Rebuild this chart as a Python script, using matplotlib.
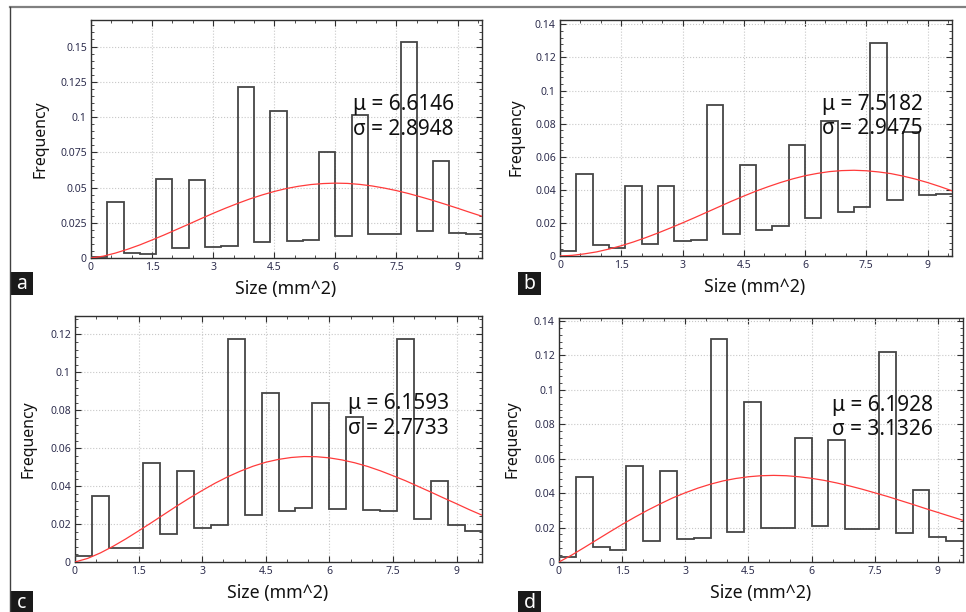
import matplotlib
matplotlib.use("Agg")
import matplotlib.pyplot as plt
from matplotlib.ticker import MultipleLocator, FormatStrFormatter

plt.rcParams['font.family'] = ['Noto Sans', 'DejaVu Sans']

W, H = 966, 612

# ── data ──────────────────────────────────────────────────────────────
bin_edges = [0, 0.4, 0.8, 1.2, 1.6, 2.0, 2.4, 2.8, 3.2, 3.6, 4.0, 4.4, 4.8,
             5.2, 5.6, 6.0, 6.4, 6.8, 7.2, 7.6, 8.0, 8.4, 8.8, 9.2, 9.6]

freq_a = [0.001, 0.040, 0.0035, 0.003, 0.056, 0.007, 0.0555, 0.008, 0.0085,
          0.121, 0.011, 0.1043, 0.012, 0.013, 0.075, 0.0155, 0.1013, 0.017,
          0.017, 0.153, 0.0188, 0.0688, 0.018, 0.017]
freq_b = [0.003, 0.0493, 0.0067, 0.0046, 0.0421, 0.0072, 0.0425, 0.0088, 0.0096,
          0.0911, 0.0132, 0.0549, 0.016, 0.018, 0.0669, 0.0232, 0.0813, 0.0266,
          0.0296, 0.1289, 0.034, 0.0749, 0.0371, 0.0375]
freq_c = [0.0032, 0.0348, 0.0076, 0.0075, 0.052, 0.0146, 0.0478, 0.0179, 0.0193,
          0.1174, 0.025, 0.0889, 0.0269, 0.0285, 0.0837, 0.0281, 0.0765, 0.0274,
          0.0269, 0.1178, 0.0227, 0.0429, 0.0193, 0.0165]
freq_d = [0.0029, 0.0496, 0.0089, 0.0068, 0.0558, 0.012, 0.053, 0.0136, 0.0139,
          0.1297, 0.0176, 0.0929, 0.0199, 0.0196, 0.072, 0.0207, 0.0707, 0.0194,
          0.0194, 0.1218, 0.0166, 0.042, 0.0145, 0.0124]

mu = {'a': 6.6146, 'b': 7.5182, 'c': 6.1593, 'd': 6.1928}
sigma = {'a': 2.8948, 'b': 2.9475, 'c': 2.7733, 'd': 3.1326}

# fitted curves (red), sampled every 0.3 along x
curve_x = [0, 0.3, 0.6, 0.9, 1.2, 1.5, 1.8, 2.1, 2.4, 2.7, 3.0, 3.3, 3.6, 3.9,
           4.2, 4.5, 4.8, 5.1, 5.4, 5.7, 6.0, 6.3, 6.6, 6.9, 7.2, 7.5, 7.8,
           8.1, 8.4, 8.7, 9.0, 9.3, 9.6]
fit_a = [0.0000, 0.0013, 0.0035, 0.0062, 0.0093, 0.0128, 0.0164, 0.0202, 0.0240,
         0.0279, 0.0317, 0.0353, 0.0387, 0.0419, 0.0447, 0.0472, 0.0493, 0.0509,
         0.0521, 0.0528, 0.0531, 0.0529, 0.0522, 0.0511, 0.0496, 0.0478, 0.0457,
         0.0433, 0.0408, 0.0381, 0.0353, 0.0324, 0.0296]
fit_b = [0.0000, 0.0004, 0.0013, 0.0025, 0.0042, 0.0062, 0.0085, 0.0111, 0.0139,
         0.0169, 0.0200, 0.0232, 0.0265, 0.0298, 0.0331, 0.0362, 0.0392, 0.0419,
         0.0444, 0.0466, 0.0485, 0.0499, 0.0510, 0.0516, 0.0518, 0.0515, 0.0508,
         0.0498, 0.0483, 0.0465, 0.0444, 0.0420, 0.0394]
fit_c = [0.0000, 0.0019, 0.0048, 0.0083, 0.0122, 0.0164, 0.0207, 0.0251, 0.0295,
         0.0337, 0.0377, 0.0415, 0.0449, 0.0479, 0.0505, 0.0526, 0.0541, 0.0551,
         0.0556, 0.0555, 0.0549, 0.0538, 0.0523, 0.0504, 0.0481, 0.0455, 0.0428,
         0.0398, 0.0368, 0.0337, 0.0307, 0.0276, 0.0247]
fit_d = [0.0000, 0.0040, 0.0084, 0.0129, 0.0174, 0.0218, 0.0260, 0.0300, 0.0337,
         0.0372, 0.0402, 0.0429, 0.0452, 0.0471, 0.0485, 0.0495, 0.0501, 0.0503,
         0.0501, 0.0495, 0.0486, 0.0474, 0.0459, 0.0442, 0.0423, 0.0402, 0.0381,
         0.0358, 0.0335, 0.0311, 0.0288, 0.0265, 0.0242]

panels = [
    # name, freq, fit, (left, right, top, bottom) px, ytop, ymaj, ymin, text x, label box, xlabel, ylabel
    ('a', freq_a, fit_a, (91, 482, 20, 258), 0.1688, 0.025, 0.005, 0.669, (10, 272), (286, 289), (41, 139)),
    ('b', freq_b, fit_b, (560, 952, 20, 256), 0.1426, 0.02, 0.004, 0.668, (518, 272), (755, 287), (516, 137)),
    ('c', freq_c, fit_c, (75, 482, 316, 562), 0.1297, 0.02, 0.004, 0.671, (10, 591), (278, 593), (28, 439)),
    ('d', freq_d, fit_d, (559, 963, 318, 562), 0.1417, 0.02, 0.004, 0.676, (518, 591), (761, 593), (513, 439)),
]

tick_col = '#2e2e4e'
fig = plt.figure(figsize=(W / 100, H / 100), dpi=100)

# outer frame lines
fig.add_artist(plt.Line2D([10 / W, 1], [1 - 7 / H, 1 - 7 / H], color='#808080', lw=1.6))
fig.add_artist(plt.Line2D([10 / W, 10 / W], [0, 1 - 7 / H], color='#404040', lw=1.0))

for name, freq, fit, (l, r, t, b), ytop, ymaj, ymin, tx, (bx, by), (xlx, xly), (ylx, yly) in panels:
    ax = fig.add_axes([l / W, 1 - b / H, (r - l) / W, (b - t) / H])
    ax.stairs(freq, bin_edges, baseline=None, color='#454545', lw=1.3, zorder=3)
    ax.plot(curve_x, fit, color='#ff3b3b', lw=0.9, zorder=4)

    ax.set_xlim(0, 9.6)
    ax.set_ylim(0, ytop)
    ax.xaxis.set_major_locator(MultipleLocator(1.5))
    ax.xaxis.set_minor_locator(MultipleLocator(0.5))
    ax.yaxis.set_major_locator(MultipleLocator(ymaj))
    ax.yaxis.set_minor_locator(MultipleLocator(ymin))
    ax.xaxis.set_major_formatter(FormatStrFormatter('%g'))
    ax.yaxis.set_major_formatter(FormatStrFormatter('%g'))
    ax.tick_params(which='both', direction='in', top=True, right=True,
                   colors='#303030', labelcolor=tick_col, labelsize=7.5, pad=3)
    ax.tick_params(which='major', length=4, width=0.8)
    ax.tick_params(which='minor', length=2.2, width=0.6)
    for lab in ax.get_xticklabels() + ax.get_yticklabels():
        lab.set_fontweight('bold')
    ax.grid(True, which='major', color='#c8c8c8', linestyle=':', lw=0.8)
    for sp in ax.spines.values():
        sp.set_color('#303030')
        sp.set_linewidth(1.0)

    ax.text(tx, 0.643, f'\u03bc = {mu[name]:.4f}', transform=ax.transAxes,
            fontsize=15, ha='left', va='center', color='#111111', zorder=5)
    ax.text(tx, 0.542, f'\u03c3 = {sigma[name]:.4f}', transform=ax.transAxes,
            fontsize=15, ha='left', va='center', color='#111111', zorder=5)

    fig.text(xlx / W, 1 - xly / H, 'Size (mm^2)', fontsize=12.7, ha='center', va='center', color='#111111')
    fig.text(ylx / W, 1 - yly / H, 'Frequency', fontsize=11.4, ha='center', va='center',
             rotation=90, color='#111111')

    # panel letter in a black box
    fig.add_artist(plt.Rectangle((bx / W, 1 - (by + 23) / H), 23 / W, 23 / H,
                                 transform=fig.transFigure, color='#1a1a1a', lw=0))
    fig.text((bx + 11.5) / W, 1 - (by + 12) / H, name, fontsize=14, color='white',
             ha='center', va='center')

fig.savefig('out.png', dpi=100)
